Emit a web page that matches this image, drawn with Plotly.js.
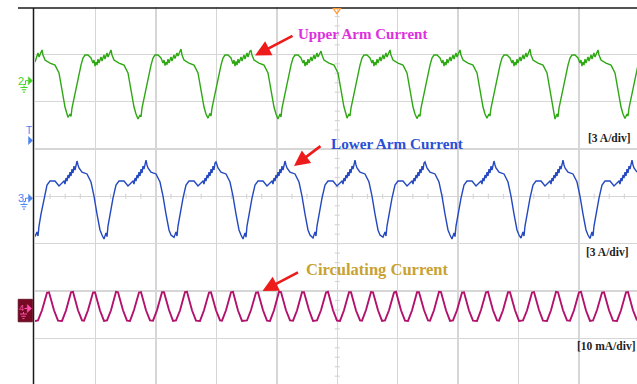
<!DOCTYPE html>
<html>
<head>
<meta charset="utf-8">
<script src="https://cdn.plot.ly/plotly-3.0.1.min.js"></script>
<style>
  html, body { margin: 0; padding: 0; background: #ffffff; overflow: hidden; }
  #chart { width: 637px; height: 384px; }
</style>
</head>
<body>
<div id="chart"></div>
<script>
// ---------------- Data ----------------
// Time axis: acquisition sample index (60.45 samples per horizontal division)
const SAMPLES_PER_DIV = 60.45;

// Channel 2 - Upper arm current (3 A/div)
const upperArmTime = [
  0,1,3,4,6,7,8,10,15,20,24,27,30,32,
  33,35,36,37,41,44,46,48,50,53,56,58,59,60,61,62,63,64,66,67,69,70,72,73,75,76,77,79,84,89,93,96,99,101,
  103,105,106,107,111,114,116,118,120,123,126,128,129,130,131,132,133,134,136,137,139,140,142,143,145,146,147,149,154,159,163,166,169,171,
  173,175,176,177,181,184,186,188,190,193,196,198,199,200,201,202,203,204,206,207,209,210,212,213,215,216,217,219,224,229,233,236,239,241,
  243,245,246,247,251,254,256,258,260,263,266,268,269,270,271,272,273,274,276,277,279,280,282,283,285,286,287,289,294,299,303,306,309,311,
  312,314,315,316,320,323,325,327,329,332,335,337,338,339,340,341,342,343,345,346,348,349,351,352,354,355,356,358,363,368,372,375,378,380,
  382,384,385,386,390,393,395,397,399,402,405,407,408,409,410,411,412,413,415,416,418,419,421,422,424,425,426,428,433,438,442,445,448,450,
  452,454,455,456,460,463,465,467,469,472,475,477,478,479,480,481,482,483,485,486,488,489,491,492,494,495,496,498,503,508,512,515,518,
  520,522,523,524,528,531,533,535,537,540,543,545,546,547,548,549,550,551,553,554,556,557,559,560,562,563,564,566,571,576,580,583,586,588,
  590,592,593,594,598,601,603
];
const upperArmCurrentA = [
  1.20,1.39,1.78,1.52,1.90,1.97,1.65,1.33,1.14,1.01,0.51,-0.57,-1.65,-2.09,
  -2.30,-2.09,-2.25,-1.71,-0.44,0.44,1.01,1.46,1.65,1.65,1.46,1.14,1.33,0.95,1.20,1.01,1.39,1.14,1.52,1.27,1.65,1.39,1.78,1.52,1.90,1.97,1.65,1.33,1.14,1.01,0.51,-0.57,-1.65,-2.09,
  -2.41,-2.15,-2.28,-1.71,-0.44,0.44,1.01,1.46,1.65,1.65,1.46,1.14,1.33,0.98,1.20,1.04,1.39,1.14,1.52,1.27,1.65,1.42,1.78,1.58,1.97,2.03,1.65,1.33,1.14,1.01,0.51,-0.57,-1.65,-2.09,
  -2.35,-2.05,-2.22,-1.71,-0.44,0.44,1.01,1.46,1.65,1.65,1.46,1.10,1.33,0.95,1.24,1.01,1.39,1.14,1.52,1.27,1.65,1.39,1.78,1.52,1.90,1.93,1.65,1.33,1.14,1.01,0.51,-0.57,-1.65,-2.09,
  -2.41,-2.09,-2.28,-1.71,-0.44,0.44,1.01,1.46,1.65,1.65,1.46,1.14,1.33,0.95,1.20,1.01,1.39,1.14,1.52,1.27,1.65,1.39,1.78,1.52,1.84,1.90,1.65,1.33,1.14,1.01,0.51,-0.57,-1.65,-2.09,
  -2.35,-2.09,-2.22,-1.71,-0.44,0.44,1.01,1.46,1.65,1.65,1.46,1.14,1.33,0.95,1.20,1.01,1.39,1.14,1.52,1.27,1.65,1.39,1.78,1.52,1.90,1.97,1.65,1.33,1.14,1.01,0.51,-0.57,-1.65,-2.09,
  -2.38,-2.12,-2.25,-1.71,-0.44,0.44,1.01,1.46,1.65,1.65,1.46,1.14,1.33,0.95,1.20,1.01,1.39,1.14,1.52,1.27,1.65,1.39,1.78,1.52,1.90,1.97,1.65,1.33,1.14,1.01,0.51,-0.57,-1.65,-2.09,
  -2.35,-2.09,-2.22,-1.71,-0.44,0.44,1.01,1.46,1.65,1.65,1.46,1.14,1.33,0.95,1.20,1.01,1.39,1.14,1.52,1.27,1.65,1.39,1.78,1.52,1.97,2.03,1.65,1.33,1.14,1.01,0.51,-0.57,-1.65,
  -2.41,-2.09,-2.28,-1.71,-0.44,0.44,1.01,1.46,1.65,1.65,1.46,1.14,1.33,0.95,1.20,1.01,1.39,1.14,1.52,1.27,1.65,1.39,1.78,1.52,1.90,1.97,1.65,1.33,1.14,1.01,0.51,-0.57,-1.65,-2.09,
  -2.38,-2.09,-2.22,-1.71,-0.44,0.44,1.01
];

// Channel 3 - Lower arm current (3 A/div)
const lowerArmTime = [
  0,2,3,4,6,9,12,15,20,24,27,29,30,31,32,33,34,35,36,37,38,39,40,41,42,43,44,47,52,56,59,62,65,67,
  69,71,72,73,75,78,81,84,89,93,96,98,99,100,101,102,103,104,105,106,107,108,109,110,111,112,113,116,121,125,128,131,134,136,
  139,141,142,143,145,148,151,154,159,163,166,168,169,170,171,172,173,174,175,176,177,178,179,180,181,182,183,186,191,195,198,201,204,206,
  208,210,211,212,214,217,220,223,228,232,235,237,238,239,240,241,242,243,244,245,246,247,248,249,250,251,252,255,260,264,267,270,273,275,
  278,280,281,282,284,287,290,293,298,302,305,307,308,309,310,311,312,313,314,315,316,317,318,319,320,321,322,325,330,334,337,340,343,345,
  348,350,351,352,354,357,360,363,368,372,375,377,378,379,380,381,382,383,384,385,386,387,388,389,390,391,392,395,400,404,407,410,413,415,
  417,419,420,421,423,426,429,432,437,441,444,446,447,448,449,450,451,452,453,454,455,456,457,458,459,460,461,464,469,473,476,479,482,484,
  486,488,489,490,492,495,498,501,506,510,513,515,516,517,518,519,520,521,522,523,524,525,526,527,528,529,530,533,538,542,545,548,551,553,
  555,557,558,559,561,564,567,570,575,579,582,584,585,586,587,588,589,590,591,592,593,594,595,596,597,598,599,602
];
const lowerArmCurrentA = [
  -2.40,-2.11,-2.36,-1.73,-0.97,0.04,0.87,1.12,1.12,0.81,1.00,1.12,0.93,1.31,1.12,1.50,1.31,1.69,1.44,1.88,1.63,2.07,1.82,2.26,2.39,2.14,1.95,1.69,1.57,1.06,0.17,-0.97,-1.98,-2.30,
  -2.55,-2.17,-2.40,-1.73,-0.97,0.04,0.87,1.12,1.12,0.81,1.00,1.12,0.93,1.31,1.12,1.50,1.31,1.69,1.44,1.88,1.63,2.07,1.88,2.33,2.45,2.14,1.95,1.69,1.57,1.06,0.17,-0.97,-1.98,-2.30,
  -2.45,-2.11,-2.36,-1.73,-0.97,0.04,0.87,1.12,1.12,0.81,1.00,1.12,0.93,1.31,1.12,1.50,1.31,1.69,1.44,1.88,1.63,2.07,1.82,2.26,2.33,2.14,1.95,1.69,1.57,1.06,0.17,-0.97,-1.98,-2.30,
  -2.55,-2.17,-2.43,-1.73,-0.97,0.04,0.87,1.12,1.12,0.81,1.00,1.12,0.93,1.31,1.12,1.50,1.31,1.69,1.44,1.88,1.63,2.07,1.82,2.26,2.39,2.14,1.95,1.69,1.57,1.06,0.17,-0.97,-1.98,-2.30,
  -2.49,-2.11,-2.36,-1.73,-0.97,0.04,0.87,1.12,1.12,0.81,1.00,1.12,0.93,1.31,1.12,1.50,1.31,1.69,1.44,1.88,1.63,2.07,1.88,2.33,2.45,2.14,1.95,1.69,1.57,1.06,0.17,-0.97,-1.98,-2.30,
  -2.43,-2.11,-2.36,-1.73,-0.97,0.04,0.87,1.12,1.12,0.81,1.00,1.12,0.93,1.31,1.12,1.50,1.31,1.69,1.44,1.88,1.63,2.07,1.82,2.26,2.33,2.14,1.95,1.69,1.57,1.06,0.17,-0.97,-1.98,-2.30,
  -2.55,-2.17,-2.40,-1.73,-0.97,0.04,0.87,1.12,1.12,0.81,1.00,1.12,0.93,1.31,1.12,1.50,1.31,1.69,1.44,1.88,1.63,2.07,1.82,2.26,2.39,2.14,1.95,1.69,1.57,1.06,0.17,-0.97,-1.98,-2.30,
  -2.49,-2.11,-2.36,-1.73,-0.97,0.04,0.87,1.12,1.12,0.81,1.00,1.12,0.93,1.31,1.12,1.50,1.31,1.69,1.44,1.88,1.63,2.07,1.88,2.33,2.45,2.14,1.95,1.69,1.57,1.06,0.17,-0.97,-1.98,-2.30,
  -2.52,-2.11,-2.36,-1.73,-0.97,0.04,0.87,1.12,1.12,0.81,1.00,1.12,0.93,1.31,1.12,1.50,1.31,1.69,1.44,1.88,1.63,2.07,1.88,2.33,2.45,2.14,1.95,1.69
];

// Channel 4 - Circulating current (10 mA/div)
const circTime = [
  0,
  3,7,10,12,14,16,19,23,
  27,31,34,36,38,40,43,47,
  49,53,56,58,60,62,65,69,
  72,76,79,81,83,85,88,92,
  95,99,102,104,106,108,111,115,
  118,122,125,127,129,131,134,138,
  141,145,148,150,152,154,157,161,
  165,169,172,174,176,178,181,185,
  187,191,194,196,198,200,203,207,
  212,216,219,221,223,225,228,232,
  235,239,242,244,246,248,251,255,
  258,262,265,267,269,271,274,278,
  282,286,289,291,293,295,298,302,
  305,309,312,314,316,318,321,325,
  327,331,334,336,338,340,343,347,
  350,354,357,359,361,363,366,370,
  373,377,380,382,384,386,389,393,
  395,399,402,404,406,408,411,415,
  418,422,425,427,429,431,434,438,
  442,446,449,451,453,455,458,462,
  464,468,471,473,475,477,480,484,
  488,492,495,497,499,501,504,508,
  512,516,519,521,523,525,528,532,
  535,539,542,544,546,548,551,555,
  558,562,565,567,569,571,574,578,
  582,586,589,591,593,595,598,602
];
const circCurrentMA = [
  -2.45,
  -2.35,-0.20,2.00,3.50,3.60,2.10,-0.20,-2.40,
  -2.45,-0.25,2.00,3.60,3.70,2.10,-0.20,-2.35,
  -2.40,-0.20,2.05,3.55,3.60,2.05,-0.25,-2.45,
  -2.35,-0.20,2.10,3.70,3.60,2.00,-0.20,-2.40,
  -2.45,-0.15,2.00,3.55,3.65,2.10,-0.20,-2.35,
  -2.40,-0.20,2.00,3.60,3.60,2.10,-0.15,-2.45,
  -2.35,-0.25,2.05,3.65,3.70,2.05,-0.20,-2.40,
  -2.45,-0.20,2.00,3.55,3.60,2.10,-0.20,-2.35,
  -2.40,-0.20,2.10,3.60,3.70,2.05,-0.25,-2.45,
  -2.35,-0.15,2.00,3.55,3.60,2.10,-0.20,-2.40,
  -2.45,-0.20,2.05,3.70,3.65,2.00,-0.20,-2.35,
  -2.40,-0.25,2.00,3.60,3.60,2.10,-0.15,-2.45,
  -2.35,-0.20,2.10,3.55,3.70,2.05,-0.20,-2.40,
  -2.45,-0.20,2.00,3.60,3.60,2.10,-0.25,-2.35,
  -2.40,-0.15,2.05,3.65,3.60,2.00,-0.20,-2.45,
  -2.35,-0.20,2.00,3.55,3.70,2.10,-0.20,-2.40,
  -2.45,-0.25,2.10,3.60,3.60,2.05,-0.15,-2.35,
  -2.40,-0.20,2.00,3.70,3.65,2.10,-0.20,-2.45,
  -2.35,-0.20,2.05,3.55,3.60,2.00,-0.25,-2.40,
  -2.45,-0.15,2.00,3.60,3.70,2.10,-0.20,-2.35,
  -2.40,-0.20,2.10,3.60,3.60,2.05,-0.20,-2.45,
  -2.35,-0.25,2.00,3.55,3.65,2.10,-0.15,-2.40,
  -2.45,-0.20,2.05,3.70,3.60,2.00,-0.20,-2.35,
  -2.40,-0.20,2.00,3.60,3.70,2.10,-0.25,-2.45,
  -2.35,-0.15,2.10,3.55,3.60,2.05,-0.20,-2.40,
  -2.45,-0.20,2.00,3.60,3.65,2.10,-0.20,-2.35
];

// Scope channel settings (vertical scale per division and trace position in divisions)
const channelNames = ['Upper Arm Current', 'Lower Arm Current', 'Circulating Current'];
const channelScales = [3, 3, 10];            // A/div, A/div, mA/div
const channelOffsetsDiv = [2.436, -0.051, -2.388];
const scaleLabels = ['[3 A/div]', '[3 A/div]', '[10 mA/div]'];

// ---------------- Build the figure ----------------
function check(a, b, name) {
  if (a.length !== b.length) throw new Error(name + ' length mismatch ' + a.length + ' vs ' + b.length);
}
check(upperArmTime, upperArmCurrentA, 'upper');
check(lowerArmTime, lowerArmCurrentA, 'lower');
check(circTime, circCurrentMA, 'circ');

function toScreen(values, ch) {
  return values.map(v => channelOffsetsDiv[ch] + v / channelScales[ch]);
}

const traceColors = ['#2da813', '#2448bf', '#b2126c'];
const traceWidths = [1.4, 1.4, 1.9];
const series = [
  [upperArmTime, upperArmCurrentA],
  [lowerArmTime, lowerArmCurrentA],
  [circTime, circCurrentMA]
];
const data = series.map((s, i) => ({
  type: 'scatter', mode: 'lines', name: channelNames[i],
  x: s[0], y: toScreen(s[1], i),
  line: { color: traceColors[i], width: traceWidths[i] },
  hoverinfo: 'skip'
}));

// Plot geometry (pixels) used to place the scope-screen decorations
const W = 637, H = 384, ML = 35, MT = 7;
const PW = W - ML, PH = H - MT;
const PX = p => (p - ML) / PW;
const PY = p => (H - p) / PH;
const DIV_PX_Y = 47.33;
const XMAX = 602;
const YTOP = 4, YBOT = 4 - PH / DIV_PX_Y;

function pathPx(pts, close) {
  let s = pts.map((p, i) => (i ? 'L' : 'M') + PX(p[0]).toFixed(5) + ',' + PY(p[1]).toFixed(5)).join(' ');
  return close ? s + ' Z' : s;
}
function lineShape(x0, y0, x1, y1, color, w) {
  return { type: 'line', xref: 'paper', yref: 'paper', x0: PX(x0), y0: PY(y0), x1: PX(x1), y1: PY(y1),
           line: { color: color, width: w }, layer: 'above' };
}
function ground(cx, ytop, color) {
  return [
    lineShape(cx, ytop - 2, cx, ytop, color, 1),
    lineShape(cx - 3.5, ytop, cx + 3.5, ytop, color, 1),
    lineShape(cx - 2.2, ytop + 2.3, cx + 2.2, ytop + 2.3, color, 1),
    lineShape(cx - 1, ytop + 4.6, cx + 1, ytop + 4.6, color, 1)
  ];
}
function tri(x0, yc, color) {
  return { type: 'path', xref: 'paper', yref: 'paper', path: pathPx([[x0, yc - 4], [x0 + 4.2, yc], [x0, yc + 4]], true),
           fillcolor: color, line: { color: color, width: 0.5 }, layer: 'above' };
}

const gridGray = '#d6d6d6';
const shapes = [];
// centre-cross minor ticks (4 per horizontal division, 5 per vertical division)
const tickHalfY = 2.5 / DIV_PX_Y, tickHalfX = 2.5;
for (let i = 1; i < 40; i++) {
  const x = i * SAMPLES_PER_DIV / 4;
  if (x > XMAX) break;
  shapes.push({ type: 'line', xref: 'x', yref: 'y', x0: x, x1: x, y0: -tickHalfY, y1: tickHalfY,
                line: { color: gridGray, width: 1.2 }, layer: 'below' });
}
const xCenter = 5 * SAMPLES_PER_DIV;
for (let j = -19; j <= 20; j++) {
  const y = j * 0.2;
  shapes.push({ type: 'line', xref: 'x', yref: 'y', x0: xCenter - tickHalfX, x1: xCenter + tickHalfX, y0: y, y1: y,
                line: { color: gridGray, width: 1.2 }, layer: 'below' });
}
// screen border lines
shapes.push(lineShape(18, 8, 640, 8, '#1a1a1a', 1.5));
shapes.push(lineShape(33.5, 8, 33.5, 386, '#1a1a1a', 1.5));
// trigger position marker (top)
shapes.push({ type: 'path', xref: 'paper', yref: 'paper', path: pathPx([[333.3, 8.6], [340.5, 8.6], [336.9, 13.6]], true),
              fillcolor: 'rgba(0,0,0,0)', line: { color: '#ff9a35', width: 1.2 }, layer: 'above' });
// channel 2 marker
const c2 = '#3fd41f';
shapes.push(tri(28.3, 80.7, c2));
shapes.push(lineShape(23.5, 84.5, 25.5, 84.5, c2, 1));
shapes.push(lineShape(25.5, 84.5, 25.5, 80.7, c2, 1));
shapes.push(lineShape(25.5, 80.7, 28.5, 80.7, c2, 1));
shapes.push(...ground(24, 87.5, c2));
// trigger level marker
const cT = '#4a82f2';
shapes.push(tri(28.5, 140.5, cT));
// channel 3 marker
const c3 = '#4a86f2';
shapes.push(tri(28.5, 198.2, c3));
shapes.push(lineShape(23.5, 201.5, 25.5, 201.5, c3, 1));
shapes.push(lineShape(25.5, 201.5, 25.5, 198.2, c3, 1));
shapes.push(lineShape(25.5, 198.2, 28.5, 198.2, c3, 1));
shapes.push(...ground(24, 204.5, c3));
// channel 4 marker box
shapes.push({ type: 'rect', xref: 'paper', yref: 'paper', x0: PX(18.2), x1: PX(32.4), y0: PY(299.3), y1: PY(321.8),
              fillcolor: '#760a24', line: { color: '#5a0418', width: 0.8 }, layer: 'above' });
const c4 = '#ff4fb0';
shapes.push(tri(27.3, 308.5, c4));
shapes.push(lineShape(24.5, 308.5, 27.5, 308.5, c4, 1));
shapes.push(...ground(23.5, 314, c4));

const serif = 'Liberation Serif, Times New Roman, serif';
const sans = 'Liberation Sans, Arial, sans-serif';
const yDiv = p => (196.3 - p) / DIV_PX_Y;
const xS = p => p - ML;

const annotations = [
  { xref: 'x', yref: 'y', x: xS(296), y: yDiv(34.3), xanchor: 'left', yanchor: 'middle', showarrow: false,
    text: '<b>' + channelNames[0] + '</b>', font: { family: serif, size: 15, color: '#dd30dd' } },
  { xref: 'x', yref: 'y', x: xS(329), y: yDiv(143.8), xanchor: 'left', yanchor: 'middle', showarrow: false,
    text: '<b>' + channelNames[1] + '</b>', font: { family: serif, size: 15.2, color: '#2a4fd6' } },
  { xref: 'x', yref: 'y', x: xS(304), y: yDiv(269.2), xanchor: 'left', yanchor: 'middle', showarrow: false,
    text: '<b>' + channelNames[2] + '</b>', font: { family: serif, size: 16.5, color: '#c8a232' } },
  // red pointer arrows
  { xref: 'x', yref: 'y', x: xS(255), y: yDiv(55.5), ax: 39, ay: -20.5, text: '', showarrow: true,
    arrowhead: 2, arrowsize: 1.2, arrowwidth: 2.6, arrowcolor: '#ee1b1b', standoff: 0 },
  { xref: 'x', yref: 'y', x: xS(294), y: yDiv(166), ax: 28, ay: -21, text: '', showarrow: true,
    arrowhead: 2, arrowsize: 1.2, arrowwidth: 2.6, arrowcolor: '#ee1b1b', standoff: 0 },
  { xref: 'x', yref: 'y', x: xS(262.5), y: yDiv(291), ax: 37, ay: -19.5, text: '', showarrow: true,
    arrowhead: 2, arrowsize: 1.2, arrowwidth: 2.6, arrowcolor: '#ee1b1b', standoff: 0 },
  // scale labels
  { xref: 'x', yref: 'y', x: xS(633), y: yDiv(138), xanchor: 'right', yanchor: 'middle', showarrow: false,
    text: '<b>' + scaleLabels[0] + '</b>', font: { family: serif, size: 11.5, color: '#1e1e1e' } },
  { xref: 'x', yref: 'y', x: xS(631), y: yDiv(251.8), xanchor: 'right', yanchor: 'middle', showarrow: false,
    text: '<b>' + scaleLabels[1] + '</b>', font: { family: serif, size: 11.5, color: '#1e1e1e' } },
  { xref: 'x', yref: 'y', x: xS(637), y: yDiv(346), xanchor: 'right', yanchor: 'middle', showarrow: false,
    text: '<b>' + scaleLabels[2] + '</b>', font: { family: serif, size: 11.5, color: '#1e1e1e' } },
  // channel markers
  { xref: 'paper', yref: 'paper', x: PX(20.5), y: PY(80.5), xanchor: 'center', yanchor: 'middle', showarrow: false,
    text: '2', font: { family: sans, size: 11, color: c2 } },
  { xref: 'paper', yref: 'paper', x: PX(28.5), y: PY(130), xanchor: 'center', yanchor: 'middle', showarrow: false,
    text: 'T', font: { family: sans, size: 10, color: cT } },
  { xref: 'paper', yref: 'paper', x: PX(20.5), y: PY(198), xanchor: 'center', yanchor: 'middle', showarrow: false,
    text: '3', font: { family: sans, size: 11, color: c3 } },
  { xref: 'paper', yref: 'paper', x: PX(21.5), y: PY(307.5), xanchor: 'center', yanchor: 'middle', showarrow: false,
    text: '4', font: { family: sans, size: 9, color: c4 } }
];

const layout = {
  width: W, height: H,
  margin: { l: ML, r: 0, t: MT, b: 0, pad: 0, autoexpand: false },
  paper_bgcolor: '#ffffff', plot_bgcolor: '#ffffff',
  showlegend: false,
  xaxis: { range: [0, XMAX], tick0: 0, dtick: SAMPLES_PER_DIV, showgrid: true, gridcolor: gridGray, gridwidth: 1.5,
           zeroline: false, showticklabels: false, ticks: '', showline: false, fixedrange: true },
  yaxis: { range: [YBOT, YTOP], tick0: 0, dtick: 1, showgrid: true, gridcolor: gridGray, gridwidth: 1.5,
           zeroline: false, showticklabels: false, ticks: '', showline: false, fixedrange: true },
  shapes: shapes,
  annotations: annotations
};

Plotly.newPlot('chart', data, layout, { staticPlot: true, displayModeBar: false });
</script>
</body>
</html>
